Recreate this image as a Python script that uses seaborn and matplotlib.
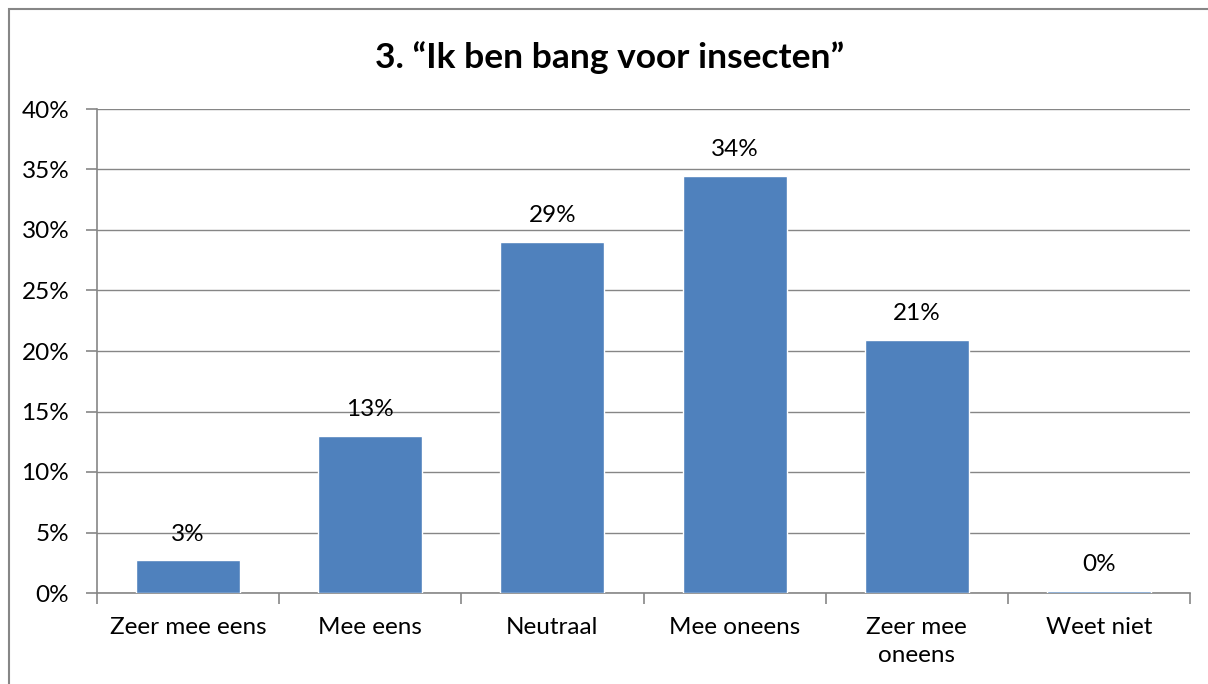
import matplotlib
matplotlib.use("Agg")
import matplotlib.pyplot as plt
import seaborn as sns
import pandas as pd
from matplotlib.patches import Rectangle
from matplotlib.ticker import MultipleLocator, FuncFormatter

categories = ["Zeer mee eens", "Mee eens", "Neutraal", "Mee oneens", "Zeer mee\noneens", "Weet niet"]
values = [2.7, 13.0, 29.0, 34.5, 20.9, 0.15]
labels = ["3%", "13%", "29%", "34%", "21%", "0%"]
title = "3. \u201cIk ben bang voor insecten\u201d"

sns.set_theme(style="white")
plt.rcParams["font.family"] = ["Lato", "DejaVu Sans"]

df = pd.DataFrame({"cat": categories, "val": values})

fig = plt.figure(figsize=(12.08, 6.84), dpi=100)
ax = fig.add_axes([97/1208, 1 - 593/684, (1190-97)/1208, (593-109)/684])

sns.barplot(data=df, x="cat", y="val", color="#4F81BD", saturation=1, width=0.57, ax=ax, zorder=3)

ax.set_ylim(0, 40)
ax.set_xlim(-0.5, len(categories) - 0.5)
ax.yaxis.set_major_locator(MultipleLocator(5))
ax.yaxis.set_major_formatter(FuncFormatter(lambda v, p: f"{int(v)}%"))
ax.yaxis.grid(True, color="#868686", linewidth=1.0, zorder=0)
ax.set_axisbelow(True)
ax.set_xlabel("")
ax.set_ylabel("")

for s in ["top", "right"]:
    ax.spines[s].set_visible(False)
for s in ["left", "bottom"]:
    ax.spines[s].set_color("#868686")
    ax.spines[s].set_linewidth(1.2)

ax.set_xticks(range(len(categories)))
ax.set_xticklabels(categories, fontsize=17.5, color="black", linespacing=1.45, va="top")
ax.tick_params(axis="x", which="major", length=0, pad=17)
ax.set_xticks([i + 0.5 for i in range(-1, len(categories))], minor=True)
ax.tick_params(axis="x", which="minor", length=8, width=1.2, color="#868686", direction="out", bottom=True)
ax.tick_params(axis="y", which="major", length=8, width=1.2, color="#868686", direction="out", left=True,
               labelsize=17.5, labelcolor="black", pad=12)

for i, (v, lab) in enumerate(zip(values, labels)):
    ax.text(i, v + 1.3, lab, ha="center", va="bottom", fontsize=17.5, color="black")

fig.text(610/1208, 1 - 58/684, title, ha="center", va="center", fontsize=25.5, fontweight="bold", color="black")

fig.patches.append(Rectangle((9/1208, -0.05), 1.2, 1 - 9/684 + 0.05, transform=fig.transFigure,
                             fill=False, edgecolor="#868686", linewidth=1.5))

fig.savefig("out.png", dpi=100)
